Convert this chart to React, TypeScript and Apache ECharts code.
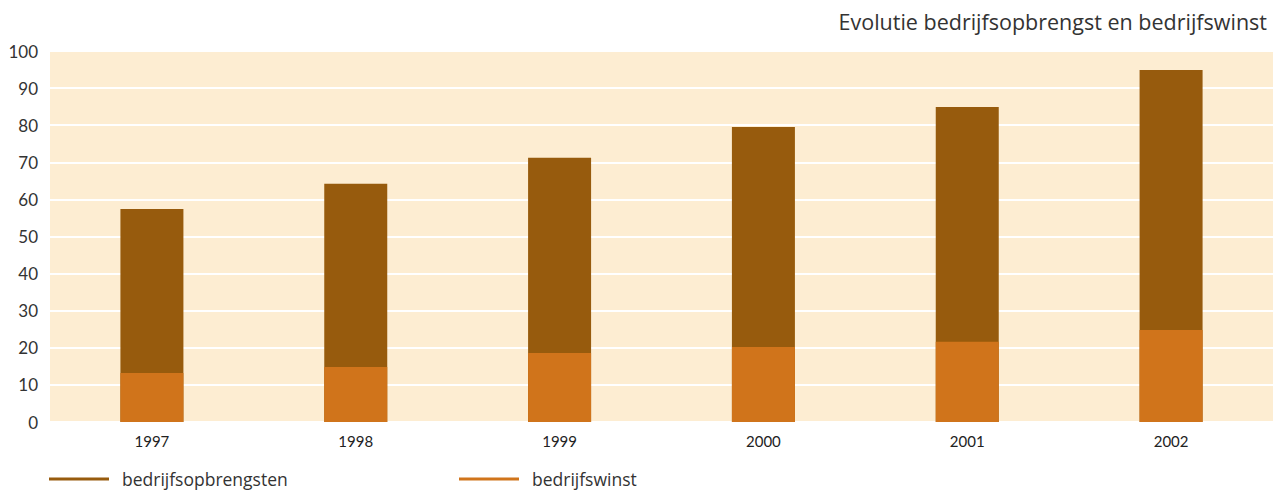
import React, { useEffect, useRef } from "react";
import * as echarts from "echarts";

const years = ["1997", "1998", "1999", "2000", "2001", "2002"];
const bedrijfsopbrengsten = [57.4, 64.2, 71.2, 79.5, 84.9, 94.9];
const bedrijfswinst = [13.2, 14.8, 18.6, 20.2, 21.6, 24.8];
const titleText = "Evolutie bedrijfsopbrengst en bedrijfswinst";

const FONT = "Lato, 'Noto Sans', sans-serif";
const WIDE = "'Open Sans', 'Noto Sans', sans-serif";
const BROWN = "#975B0D";
const ORANGE = "#D0741B";

export default function App() {
  const ref = useRef<HTMLDivElement>(null);
  useEffect(() => {
    document.body.style.margin = "0";
    const chart = echarts.init(ref.current!, null, { renderer: "svg" });
    chart.setOption({
      animation: false,
      textStyle: { fontFamily: FONT },
      title: {
        text: titleText,
        right: 14,
        top: 5,
        textStyle: { fontSize: 21.5, fontWeight: "normal", color: "#333", fontFamily: WIDE },
      },
      legend: [
        {
          data: ["bedrijfsopbrengsten"],
          left: 44,
          top: 465,
          icon: "rect",
          itemWidth: 60,
          itemHeight: 3,
          textStyle: { fontSize: 17.5, color: "#333", fontFamily: WIDE, padding: [0, 0, 0, 8] },
        },
        {
          data: ["bedrijfswinst"],
          left: 454,
          top: 465,
          icon: "rect",
          itemWidth: 60,
          itemHeight: 3,
          textStyle: { fontSize: 17.5, color: "#333", fontFamily: WIDE, padding: [0, 0, 0, 8] },
        },
      ],
      grid: {
        left: 50,
        right: 13,
        top: 51,
        bottom: 71,
        show: true,
        backgroundColor: "#FDEDD2",
        borderWidth: 0,
      },
      xAxis: {
        type: "category",
        data: years,
        axisLine: { show: false },
        axisTick: { show: false },
        axisLabel: { fontSize: 15, color: "#222", margin: 11, fontFamily: FONT },
      },
      yAxis: {
        type: "value",
        min: 0,
        max: 100,
        interval: 10,
        axisLine: { show: false },
        axisTick: { show: false },
        axisLabel: { fontSize: 17, color: "#333", margin: 12, fontFamily: FONT },
        splitLine: { lineStyle: { color: "#ffffff", width: 2 } },
      },
      series: [
        {
          name: "bedrijfsopbrengsten",
          type: "bar",
          data: bedrijfsopbrengsten,
          barWidth: 63,
          itemStyle: { color: BROWN },
        },
        {
          name: "bedrijfswinst",
          type: "bar",
          data: bedrijfswinst,
          barWidth: 63,
          barGap: "-100%",
          itemStyle: { color: ORANGE },
        },
      ],
    });
    return () => chart.dispose();
  }, []);
  return <div ref={ref} style={{ width: 1286, height: 493 }} />;
}
